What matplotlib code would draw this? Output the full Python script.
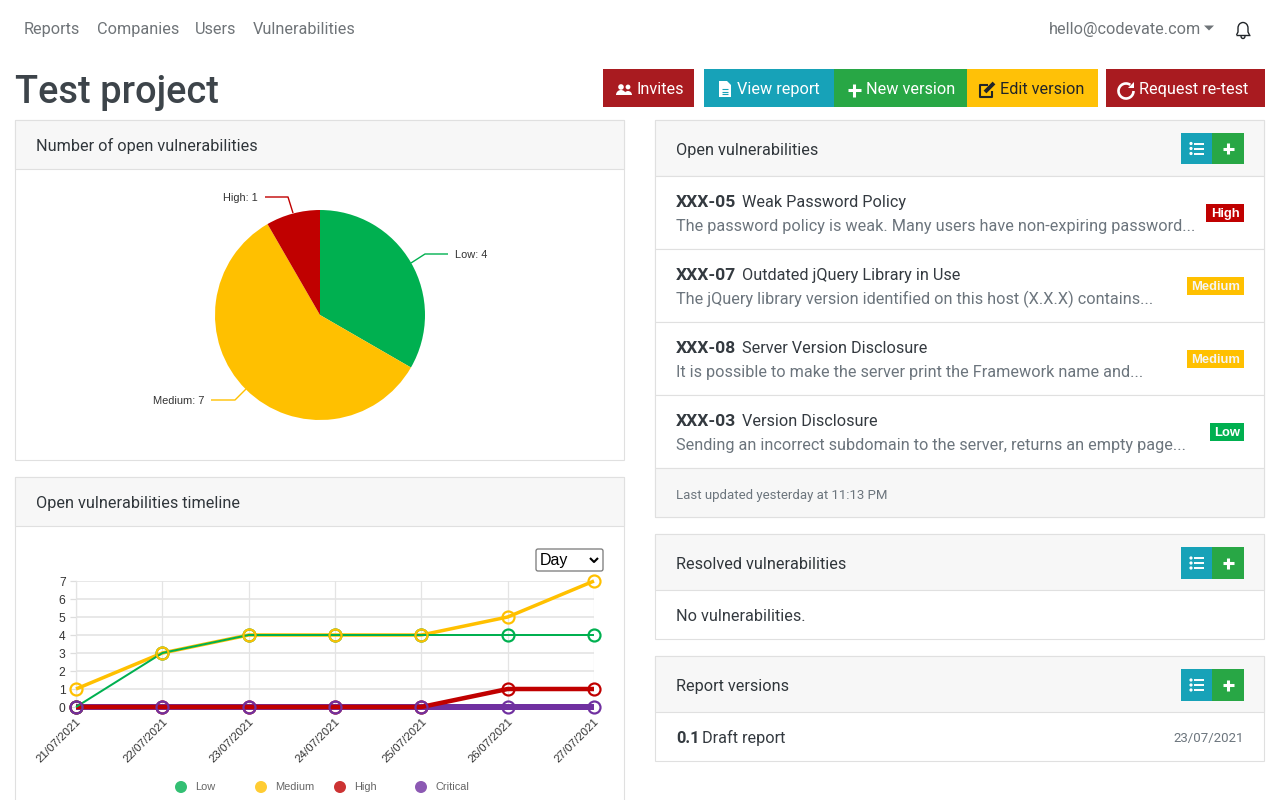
"""Project dashboard: pie and timeline charts inside a page mock-up"""

import matplotlib

matplotlib.use("Agg")

import matplotlib.pyplot as plt
from matplotlib.patches import Arc, Circle, FancyBboxPatch, Polygon, Rectangle, Wedge

plt.rcParams["font.family"] = ["Roboto", "DejaVu Sans"]

W, H = 1280, 800

# data
severity_names = ["Low", "Medium", "High", "Critical"]
pie_names = ["Low", "Medium", "High"]
pie_values = [4, 7, 1]
dates = [
    "21/07/2021",
    "22/07/2021",
    "23/07/2021",
    "24/07/2021",
    "25/07/2021",
    "26/07/2021",
    "27/07/2021",
]
low_values = [0, 3, 4, 4, 4, 4, 4]
medium_values = [1, 3, 4, 4, 4, 5, 7]
high_values = [0, 0, 0, 0, 0, 1, 1]
critical_values = [0, 0, 0, 0, 0, 0, 0]
y_ticks = [0, 1, 2, 3, 4, 5, 6, 7]

nav_items = ["Reports", "Companies", "Users", "Vulnerabilities"]
open_ids = ["XXX-05", "XXX-07", "XXX-08", "XXX-03"]
open_titles = [
    "Weak Password Policy",
    "Outdated jQuery Library in Use",
    "Server Version Disclosure",
    "Version Disclosure",
]
open_texts = [
    "The password policy is weak. Many users have non-expiring password...",
    "The jQuery library version identified on this host (X.X.X) contains...",
    "It is possible to make the server print the Framework name and...",
    "Sending an incorrect subdomain to the server, returns an empty page...",
]
open_levels = ["High", "Medium", "Medium", "Low"]

GREEN = "#00b050"
YELLOW = "#ffc000"
RED = "#c00000"
PURPLE = "#7030a0"
BTN_RED = "#a91b20"
BTN_TEAL = "#17a2b8"
BTN_GREEN = "#28a745"
BTN_YELLOW = "#ffc107"
DARK = "#343a40"
GREY = "#6c757d"
NAV = "#6f7478"
BORDER = "#e0e0e0"
HEAD = "#f7f7f7"
BODY = 16.3
ARIAL = ["Liberation Sans", "DejaVu Sans"]


def px(size):
    """css pixels to points at dpi 100"""
    return size * 0.72


def label(ax, x, y, s, size=BODY, color=DARK, ha="left", **kw):
    # same baseline for every string, whatever its descenders
    ax.text(x, y + 1 + 0.35 * size, s, fontsize=px(size), color=color, ha=ha, va="baseline", **kw)


def box(ax, x0, y0, x1, y1, fc, ec="none", lw=0.0, z=1):
    ax.add_patch(Rectangle((x0, y0), x1 - x0, y1 - y0, fc=fc, ec=ec, lw=lw, zorder=z))


def stroke(ax, xs, ys, color, lw=1.0, z=3):
    ax.plot(xs, ys, color=color, lw=lw, solid_capstyle="butt", zorder=z)


def panel(ax, x0, y0, x1, y1, head_line, title):
    box(ax, x0, y0, x1 - 1, y1 - 1, "white", BORDER, 0.8)
    box(ax, x0, y0, x1 - 1, head_line, HEAD, BORDER, 0.8)
    label(ax, x0 + 21, (y0 + head_line) / 2, title, color="#30363b")


def plus_icon(ax, cx, cy, r, color="white", lw=2.2):
    stroke(ax, [cx - r, cx + r], [cy, cy], color, lw, 4)
    stroke(ax, [cx, cx], [cy - r, cy + r], color, lw, 4)


def list_icon(ax, cx, cy):
    for dy in (-5, 0, 5):
        ax.add_patch(Circle((cx - 6, cy + dy), 1.6, fc="white", ec="none", zorder=4))
        stroke(ax, [cx - 3, cx + 7], [cy + dy, cy + dy], "white", 1.4, 4)


def button_pair(ax, y0, y1):
    box(ax, 1181, y0, 1212, y1, BTN_TEAL)
    box(ax, 1212, y0, 1244, y1, BTN_GREEN)
    list_icon(ax, 1197, (y0 + y1) / 2)
    plus_icon(ax, 1228, (y0 + y1) / 2, 5.5)


def users_icon(ax, cx, cy):
    ax.add_patch(Circle((cx - 3, cy - 2), 2.8, fc="white", ec="none", zorder=4))
    ax.add_patch(Circle((cx + 4, cy - 2), 2.4, fc="white", ec="none", zorder=4))
    ax.add_patch(Wedge((cx - 3, cy + 6), 5, 180, 360, fc="white", ec="none", zorder=4))
    ax.add_patch(Wedge((cx + 4, cy + 6), 4, 180, 360, fc="white", ec="none", zorder=4))


def file_icon(ax, cx, cy):
    pts = [(cx - 6, cy - 8), (cx + 2, cy - 8), (cx + 6, cy - 4), (cx + 6, cy + 8), (cx - 6, cy + 8)]
    ax.add_patch(Polygon(pts, fc="white", ec="none", zorder=4))
    for dy in (0, 2.8, 5.4):
        stroke(ax, [cx - 3, cx + 3], [cy + dy, cy + dy], BTN_TEAL, 0.8, 5)


def edit_icon(ax, cx, cy):
    c = "#212529"
    stroke(ax, [cx + 1, cx - 7, cx - 7, cx + 5, cx + 5], [cy - 5, cy - 5, cy + 7, cy + 7, cy + 1], c, 1.5, 4)
    stroke(ax, [cx - 2, cx + 7], [cy + 2, cy - 7], c, 2.8, 4)


def redo_icon(ax, cx, cy):
    # y axis is inverted, so angles run clockwise on the page
    ax.add_patch(Arc((cx, cy + 1), 15, 15, theta1=0, theta2=305, ec="white", lw=1.9, zorder=4))
    ax.add_patch(
        Polygon([(cx + 2, cy - 2), (cx + 8, cy - 2), (cx + 8, cy - 8)], fc="white", ec="none", zorder=4)
    )


def bell_icon(ax, cx, cy):
    c = "#212529"
    stroke(ax, [cx - 7, cx + 7], [cy + 5, cy + 5], c, 1.0, 4)
    stroke(ax, [cx - 6.5, cx - 5, cx - 5], [cy + 5, cy + 2, cy - 2], c, 1.0, 4)
    stroke(ax, [cx + 6.5, cx + 5, cx + 5], [cy + 5, cy + 2, cy - 2], c, 1.0, 4)
    ax.add_patch(Arc((cx, cy - 2), 10, 11, theta1=180, theta2=360, ec=c, lw=1.0, zorder=4))
    ax.add_patch(Arc((cx, cy + 6), 4, 5, theta1=0, theta2=180, ec=c, lw=1.0, zorder=4))


def build_page(page):
    page.set_xlim(0, W)
    page.set_ylim(H, 0)
    page.axis("off")

    # navigation
    for x, name in zip([24, 97, 195, 253], nav_items):
        label(page, x, 27, name, color=NAV)
    label(page, 1049, 27, "hello@codevate.com", color=NAV)
    page.add_patch(Polygon([(1204, 25.5), (1214, 25.5), (1209, 30.5)], fc=NAV, ec="none", zorder=3))
    bell_icon(page, 1243, 30)

    label(page, 15, 89, "Test project", size=38, color="#3d444a", fontweight="medium")

    # action buttons
    box(page, 603, 69, 694, 107, BTN_RED)
    box(page, 704, 69, 834, 107, BTN_TEAL)
    box(page, 834, 69, 967, 107, BTN_GREEN)
    box(page, 967, 69, 1098, 107, BTN_YELLOW)
    box(page, 1106, 69, 1265, 107, BTN_RED)
    users_icon(page, 624, 89)
    file_icon(page, 725, 89)
    plus_icon(page, 854, 90, 6.5)
    edit_icon(page, 987, 90)
    redo_icon(page, 1126, 90)
    label(page, 636, 87.5, "Invites", color="white")
    label(page, 737, 87.5, "View report", color="white")
    label(page, 866, 87.5, "New version", color="white")
    label(page, 1000, 87.5, "Edit version", color="#212529")
    label(page, 1139, 87.5, "Request re-test", color="white")

    # left panels
    panel(page, 15, 120, 625, 461, 169, "Number of open vulnerabilities")
    panel(page, 15, 477, 625, 830, 526, "Open vulnerabilities timeline")

    # pie leader lines and labels
    stroke(page, [411, 425, 448], [263, 254, 254], GREEN)
    stroke(page, [293, 288, 265], [213, 197, 197], RED)
    stroke(page, [246, 235, 211], [389, 400, 400], YELLOW)
    label(page, 455, 253, f"{pie_names[0]}: {pie_values[0]}", size=11, color="#333333", family=ARIAL)
    label(page, 204, 399, f"{pie_names[1]}: {pie_values[1]}", size=11, color="#333333", ha="right", family=ARIAL)
    label(page, 258, 196.5, f"{pie_names[2]}: {pie_values[2]}", size=11, color="#333333", ha="right", family=ARIAL)

    # period select
    page.add_patch(
        FancyBboxPatch(
            (536, 549), 67, 22, boxstyle="round,pad=0,rounding_size=2", fc="white", ec="#767676", lw=0.9, zorder=3
        )
    )
    label(page, 540, 558, "Day", size=16, color="black", family=ARIAL)
    stroke(page, [590, 594, 598], [558, 562, 558], "black", 1.5, 4)

    # timeline legend
    legend_colors = [GREEN, YELLOW, RED, PURPLE]
    for x, name, color in zip([181, 261, 340, 421], severity_names, legend_colors):
        page.add_patch(Circle((x, 787), 6, fc=color, ec="none", alpha=0.8, zorder=3))
        label(page, x + 14, 785.5, name, size=11, color="#666666", family=ARIAL)

    # open vulnerabilities
    panel(page, 655, 120, 1265, 518, 176, "Open vulnerabilities")
    button_pair(page, 133, 164)
    badge_colors = {"High": RED, "Medium": YELLOW, "Low": GREEN}
    badge_starts = {"High": 1206, "Medium": 1187, "Low": 1210}
    badge_text = {"High": "white", "Medium": "#f4f4f4", "Low": "white"}
    for i, (code, title, text, level) in enumerate(zip(open_ids, open_titles, open_texts, open_levels)):
        top = 176 + 73 * i
        box(page, 655, top, 1264, top + 73, "white", BORDER, 0.8)
        label(page, 676, top + 24, code, size=17.5, fontweight="bold")
        label(page, 742, top + 24, title)
        label(page, 676, top + 48, text, color=GREY)
        box(page, badge_starts[level], top + 28, 1244, top + 46, badge_colors[level])
        label(page, (badge_starts[level] + 1244) / 2, top + 35, level, size=13, color=badge_text[level],
              ha="center", fontweight="bold", family=ARIAL)
    box(page, 655, 468, 1264, 517, HEAD, BORDER, 0.8)
    label(page, 676, 493.5, "Last updated yesterday at 11:13 PM", size=13.2, color=GREY)

    # resolved vulnerabilities
    panel(page, 655, 534, 1265, 640, 590, "Resolved vulnerabilities")
    button_pair(page, 547, 579)
    label(page, 676, 614, "No vulnerabilities.")

    # report versions
    panel(page, 655, 656, 1265, 762, 712, "Report versions")
    button_pair(page, 669, 701)
    label(page, 676, 736, "0.1", size=16.5, fontweight="bold")
    label(page, 702, 736, "Draft report")
    label(page, 1244, 736, "23/07/2021", size=13.2, color=GREY, ha="right")


def build_pie(ax):
    ax.pie(
        pie_values,
        colors=[GREEN, YELLOW, RED],
        startangle=90,
        counterclock=False,
        radius=1.0,
        wedgeprops={"linewidth": 0},
    )
    ax.set_xlim(-1, 1)
    ax.set_ylim(-1, 1)


def build_timeline(ax):
    positions = list(range(len(dates)))
    ax.set_xlim(0, len(dates) - 1)
    ax.set_ylim(0, 7)
    ax.set_facecolor("none")

    series = [critical_values, high_values, medium_values, low_values]
    colors = [PURPLE, RED, YELLOW, GREEN]
    widths = [6, 4.5, 3.5, 2]
    for i, (values, color, width) in enumerate(zip(series, colors, widths)):
        ax.plot(positions, values, color=color, lw=px(width), clip_on=False, zorder=3 + i * 0.1,
                solid_capstyle="butt")

    marker_order = [(low_values, GREEN), (high_values, RED), (medium_values, YELLOW), (critical_values, PURPLE)]
    for i, (values, color) in enumerate(marker_order):
        ax.plot(positions, values, ls="none", marker="o", ms=px(12), mfc="none", mec=color, mew=px(2.2),
                clip_on=False, zorder=4 + i * 0.1)

    ax.set_xticks(positions)
    ax.set_xticklabels(dates, rotation=45, ha="right", va="top", rotation_mode="anchor",
                       fontsize=px(11.5), color="#333333", family=ARIAL)
    ax.set_yticks(y_ticks)
    ax.set_yticklabels([str(v) for v in y_ticks], fontsize=px(12), color="#333333", family=ARIAL)
    ax.tick_params(axis="y", length=4.5, width=0.9, color="#dddddd", pad=3)
    ax.tick_params(axis="x", length=0, pad=7)
    ax.grid(axis="y", color="#e4e4e4", lw=1.2, zorder=0)
    ax.grid(axis="x", color="#e4e4e4", lw=0.9, zorder=0)
    ax.set_axisbelow(True)
    for name in ("top", "right", "bottom"):
        ax.spines[name].set_visible(False)
    ax.spines["left"].set_color("#e4e4e4")
    ax.spines["left"].set_linewidth(0.9)


def axes_at(fig, x0, y0, x1, y1):
    """axes from page pixels, with y measured from the top"""
    return fig.add_axes([x0 / W, 1 - y1 / H, (x1 - x0) / W, (y1 - y0) / H])


if __name__ == "__main__":
    fig = plt.figure(figsize=(W / 100, H / 100), dpi=100, facecolor="white")

    page = fig.add_axes([0, 0, 1, 1])
    build_page(page)

    build_pie(axes_at(fig, 215, 210, 425, 420))
    build_timeline(axes_at(fig, 76, 581, 594, 707))

    fig.savefig("out.png", dpi=100)
    plt.close(fig)
